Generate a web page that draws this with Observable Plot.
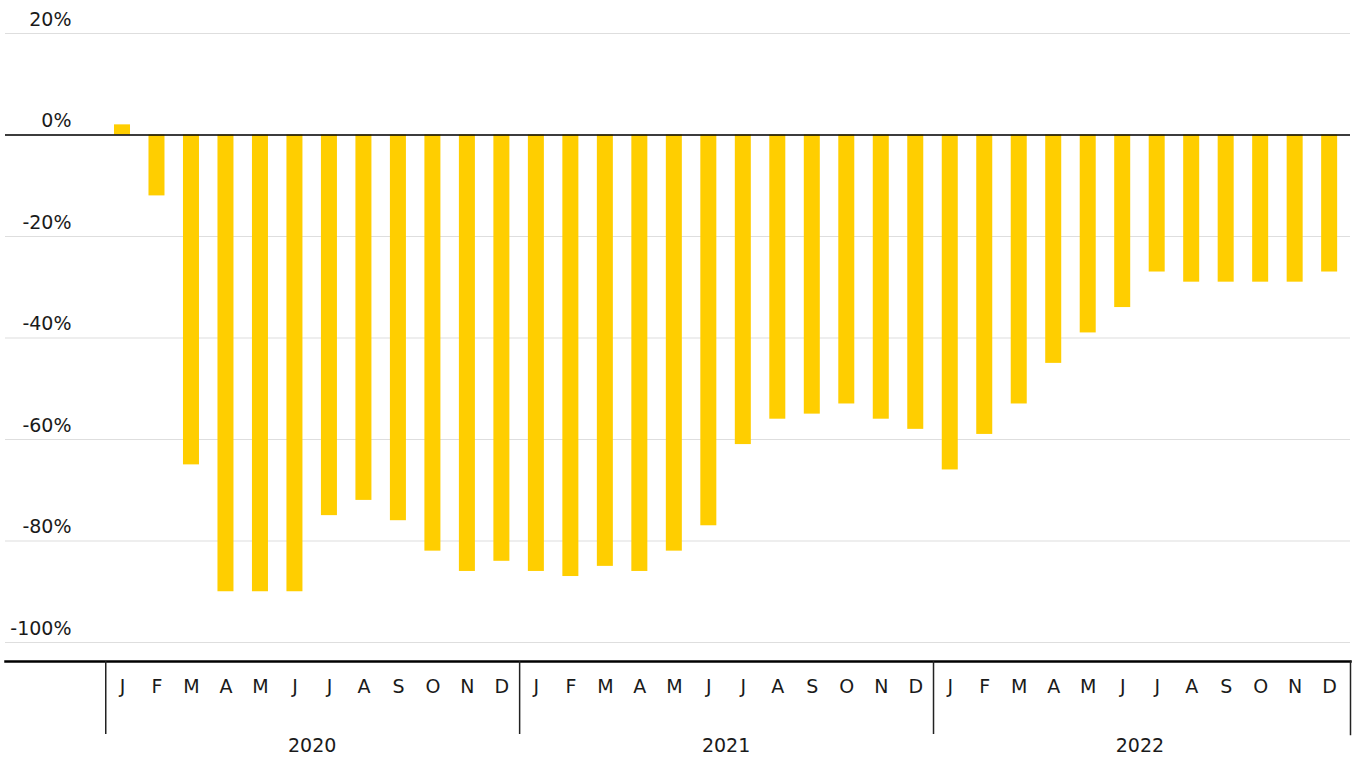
<!DOCTYPE html>
<html>
<head>
<meta charset="utf-8">
<script src="https://cdn.jsdelivr.net/npm/d3@7"></script>
<script src="https://cdn.jsdelivr.net/npm/@observablehq/plot@0.6"></script>
<style>
  html, body { margin: 0; padding: 0; background: #fff; }
  #chart svg { display: block; }
</style>
</head>
<body>
<div id="chart"></div>
<script>
// ---- data ----
const months = ["J","F","M","A","M","J","J","A","S","O","N","D"];
const years = [2020, 2021, 2022];
const values2020 = [2, -12, -65, -90, -90, -90, -75, -72, -76, -82, -86, -84];
const values2021 = [-86, -87, -85, -86, -82, -77, -61, -56, -55, -53, -56, -58];
const values2022 = [-66, -59, -53, -45, -39, -34, -27, -29, -29, -29, -29, -27];
const yTicks = [20, 0, -20, -40, -60, -80, -100];

const series = [values2020, values2021, values2022];
const data = years.flatMap((yr, yi) => months.map((m, mi) => ({
  key: `${yr}-${mi}`, year: yr, month: m, value: series[yi][mi]
})));
const keys = data.map(d => d.key);

// ---- layout ----
const W = 1359;
const step = 34.49;
const r0 = 104.75;
const r1 = r0 + keys.length * step;
const xScale = {type: "band", domain: keys, range: [r0, r1], paddingInner: 0.536, paddingOuter: 0.268, round: false, axis: null};
const font = {fontFamily: "DejaVu Sans, sans-serif", fontSize: "19px", color: "#1a1a1a", background: "#fff"};

const mainPlot = Plot.plot({
  width: W, height: 660,
  marginTop: 33, marginBottom: 18, marginLeft: 5, marginRight: 9,
  style: font,
  x: xScale,
  y: {domain: [-100, 20], label: null},
  marks: [
    Plot.ruleY(yTicks, {stroke: "#dedede", strokeWidth: 1.2}),
    Plot.axisY({anchor: "left", ticks: yTicks, tickSize: 0, tickPadding: 0, dx: 66, dy: -14,
      textAnchor: "end", tickFormat: d => d + "%", label: null}),
    Plot.barY(data, {x: "key", y: "value", fill: "#FFCE00"}),
    Plot.ruleY([0], {stroke: "#000", strokeWidth: 1.3})
  ]
});

const axisPlot = Plot.plot({
  width: W, height: 98,
  marginTop: 1, marginBottom: 24, marginLeft: 5, marginRight: 9,
  style: font,
  x: xScale,
  marks: [
    Plot.frame({anchor: "top", stroke: "#000", strokeWidth: 2.5}),
    Plot.ruleX(years.map(y => `${y}-0`), {dx: -step / 2 + 0.5, stroke: "#222", strokeWidth: 1.5}),
    Plot.frame({anchor: "right", stroke: "#222", strokeWidth: 1.5}),
    Plot.text(data, {x: "key", text: "month", frameAnchor: "top", lineAnchor: "middle", dy: 25, fill: "#1a1a1a"}),
    Plot.text(years, {x: y => `${y}-6`, text: y => String(y), frameAnchor: "bottom", lineAnchor: "middle", dy: 11, dx: -step / 2, fill: "#1a1a1a"})
  ]
});

document.getElementById("chart").append(mainPlot, axisPlot);
</script>
</body>
</html>
